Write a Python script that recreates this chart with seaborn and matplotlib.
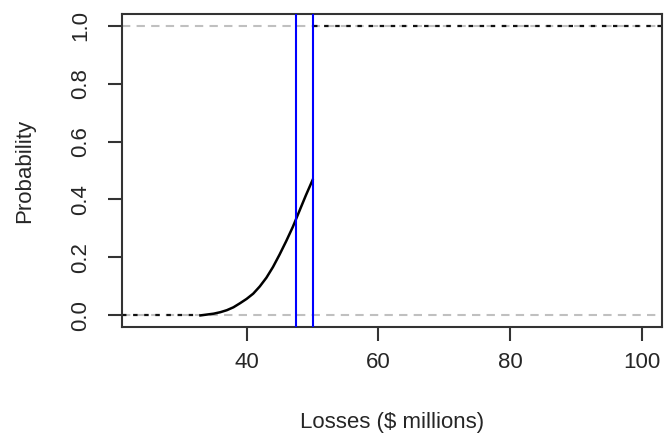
import seaborn as sns
import matplotlib.pyplot as plt
import pandas as pd

# CDF of losses
loss = [33, 34, 35, 36, 37, 38, 39, 40, 41, 42, 43, 44, 45, 46, 47, 48, 49, 50]
prob = [0.0, 0.003, 0.006, 0.011, 0.018, 0.028, 0.042, 0.057, 0.075, 0.1, 0.13,
        0.167, 0.21, 0.256, 0.305, 0.36, 0.415, 0.467]
loss_cap = 50
xlim = (21.1, 103.0)
vlines = [47.5, 50]
xticks = [40, 60, 80, 100]
yticks = [0.0, 0.2, 0.4, 0.6, 0.8, 1.0]

plt.rcParams['font.family'] = ['Liberation Sans', 'DejaVu Sans']
edge = '#333333'
txt = '#262626'

fig = plt.figure(figsize=(6.64, 4.41), dpi=100)
ax = fig.add_axes([122 / 664, 1 - 327 / 441, 540 / 664, 313 / 441])

# grey reference lines at 0 and 1
for h in [0, 1]:
    ax.axhline(h, color='#c0c0c0', lw=1.5, ls=(0, (4, 3)), zorder=1)

df = pd.DataFrame({'loss': loss, 'prob': prob})
sns.lineplot(data=df, x='loss', y='prob', color='black', lw=1.8, ax=ax, zorder=3)

# flat parts of the CDF, running to the plot edges
sns.lineplot(x=[xlim[0], loss[0]], y=[0, 0], color='#111111', lw=1.6,
             linestyle=(0, (2, 3)), ax=ax, zorder=2)
sns.lineplot(x=[loss_cap, xlim[1]], y=[1, 1], color='#111111', lw=1.6,
             linestyle=(0, (2, 3)), ax=ax, zorder=2)

for v in vlines:
    ax.axvline(v, color='#0000ff', lw=1.5, zorder=4)

ax.set_xlim(*xlim)
ax.set_ylim(-0.04, 1.04)
ax.set_xticks(xticks)
ax.set_yticks(yticks)
ax.set_yticklabels([f'{t:.1f}' for t in yticks], rotation=90, va='center')

for s in ax.spines.values():
    s.set_color(edge)
    s.set_linewidth(1.5)
ax.tick_params(axis='both', length=10, width=1.5, color=edge,
               labelsize=16, labelcolor=txt)
ax.tick_params(axis='x', pad=8)
ax.tick_params(axis='y', pad=12)

ax.set_xlabel('Losses ($ millions)', fontsize=16, color=txt)
ax.set_ylabel('Probability', fontsize=16, color=txt)
ax.xaxis.set_label_coords(0.5, -0.27)
ax.yaxis.set_label_coords(-0.16, 0.5)

fig.savefig('out.png', dpi=100)
